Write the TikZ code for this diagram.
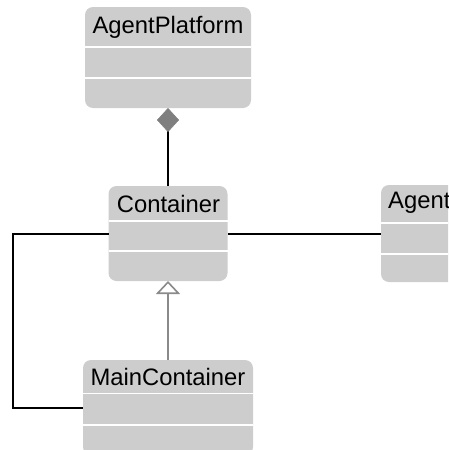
\documentclass[tikz,border=0pt]{standalone}
\usepackage{fontspec}
\setmainfont{Liberation Sans}
\usetikzlibrary{arrows.meta}
\definecolor{boxgray}{HTML}{CDCDCD}
\definecolor{tipgray}{HTML}{7F7F7F}
\definecolor{genline}{HTML}{8A8A8A}
\begin{document}
\begin{tikzpicture}[x=1pt,y=-1pt,
  classbox/.style={fill=boxgray, draw=none, rounded corners=8pt,
    inner sep=0pt, outer sep=0pt},
  divider/.style={white, line width=1.5pt},
  classname/.style={anchor=base, inner sep=0pt, font=\fontsize{23.8}{28}\selectfont},
  assoc/.style={black, line width=2pt},
  compo/.style={black, line width=2pt,
    {Diamond[length=24pt,width=22pt,color=tipgray,fill=tipgray,line width=0.5pt]}-},
  generalize/.style={genline, line width=1.6pt,
    -{Triangle[open,length=13pt,width=24pt,line width=1.6pt]}}]
\useasboundingbox (0,0) rectangle (448,450);
\clip (0,0) rectangle (448,450);

% AgentPlatform
\node[classbox, minimum width=166pt, minimum height=101pt] (ap) at (168,57.5) {};
\draw[divider] (ap.west |- 0,47) -- (ap.east |- 0,47);
\draw[divider] (ap.west |- 0,78) -- (ap.east |- 0,78);
\node[classname] (apn) at (168,33) {AgentPlatform};

% Container
\node[classbox, minimum width=119pt, minimum height=95pt] (ct) at (168,233.5) {};
\draw[divider] (ct.west |- 0,221) -- (ct.east |- 0,221);
\draw[divider] (ct.west |- 0,251) -- (ct.east |- 0,251);
\node[classname] (ctn) at (168.5,212) {Container};

% MainContainer
\node[classbox, minimum width=170pt, minimum height=95pt] (mc) at (168,407.5) {};
\draw[divider] (mc.west |- 0,393.5) -- (mc.east |- 0,393.5);
\draw[divider] (mc.west |- 0,425) -- (mc.east |- 0,425);
\node[classname] (mcn) at (168,385.5) {MainContainer};

% Agent
\node[classbox, minimum width=120pt, minimum height=97pt] (ag) at (441,233.5) {};
\draw[divider] (ag.west |- 0,223) -- (ag.east |- 0,223);
\draw[divider] (ag.west |- 0,254) -- (ag.east |- 0,254);
\node[classname, anchor=base west] (agn) at (388,208.5) {Agent};

% connectors
\draw[compo] (ap.south) -- (ct.north);
\draw[generalize] (mc.north) -- (ct.south);
\draw[assoc] (ct.east) -- (ag.west);
\coordinate (lb) at (13,407.5);
\draw[assoc] (ct.west) -| (lb) -- (mc.west);
\end{tikzpicture}
\end{document}
